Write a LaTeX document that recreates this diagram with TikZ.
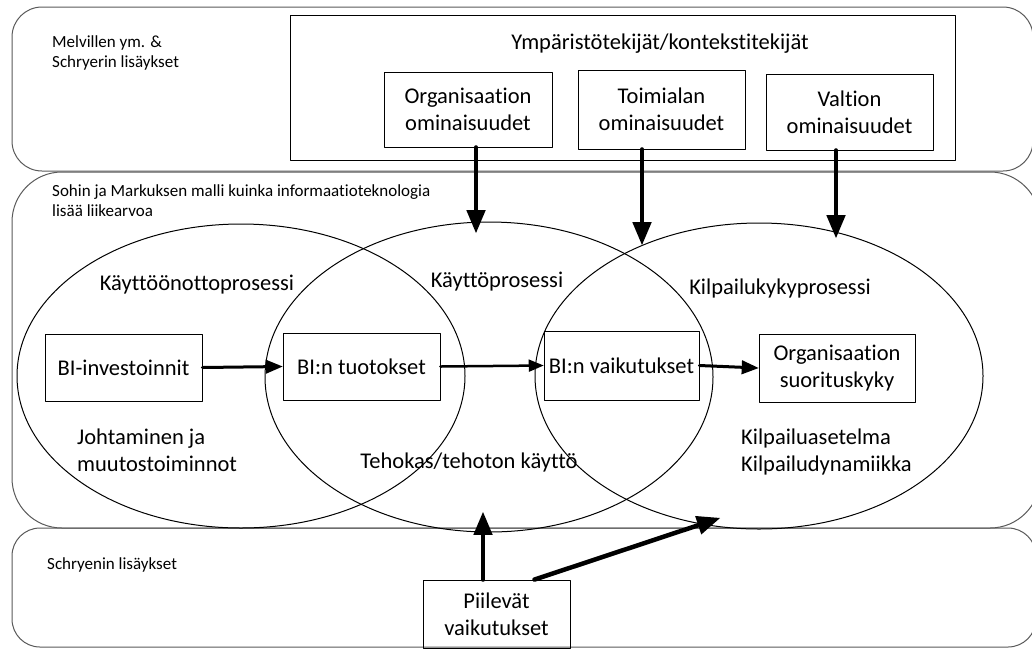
\documentclass[tikz,border=0pt]{standalone}
\usepackage{fontspec}
\setmainfont{Carlito}[Ligatures=NoCommon]
\usetikzlibrary{arrows}
\usetikzlibrary{positioning}

\definecolor{kaistaviiva}{gray}{0.35}

\begin{document}
\begin{tikzpicture}[line cap=round,line join=round,>=triangle 45,x=1pt,y=-1pt,
  laatikko/.style={draw,line width=0.9pt,align=center,inner sep=2pt,font=\fontsize{22.5}{27}\selectfont},
  teksti/.style={inner sep=0pt,align=left,font=\fontsize{22.5}{27}\selectfont},
  pieni/.style={inner sep=0pt,align=left,font=\fontsize{17}{20}\selectfont},
  kaista/.style={draw=kaistaviiva,line width=1pt},
  prosessi/.style={line width=1pt},
  nuoli/.style={->,line width=4.5pt},
  ohutnuoli/.style={->,line width=3pt}]
\clip(0,0) rectangle (1032,649);
\draw [kaista,rounded corners=30pt] (12,7) rectangle (1033,171);
\draw [kaista,rounded corners=50pt] (12,172) rectangle (1040,528);
\draw [kaista,rounded corners=28pt] (12,528) rectangle (1036,647);
\node[pieni,anchor=west] (melville) at (52,53) {Melvillen ym. \&\\Schryerin lisäykset};
\node[pieni,anchor=west] (sohmarkus) at (52,201) {Sohin ja Markuksen malli kuinka informaatioteknologia\\lisää liikearvoa};
\node[pieni,anchor=west] (schryer) at (47,565) {Schryenin lisäykset};
\node[laatikko,minimum width=665pt,minimum height=145pt] (ymparisto) at (622.5,87.5) {};
\node[teksti] (ympotsikko) at (660,44) {Ympäristötekijät/kontekstitekijät};
\node[laatikko,minimum width=168pt,minimum height=75pt] (org) at (468,109.5) {Organisaation\\ominaisuudet};
\node[laatikko,minimum width=167pt,minimum height=79pt] (toimiala) at (661.5,109.5) {Toimialan\\ominaisuudet};
\node[laatikko,minimum width=167pt,minimum height=76pt] (valtio) at (849.5,112) {Valtion\\ominaisuudet};
\draw [prosessi] (241,376) ellipse (224pt and 152pt);
\draw [prosessi] (489,377) ellipse (224pt and 155pt);
\draw [prosessi] (759,376) ellipse (224pt and 153pt);
\node[teksti] (kayttoonotto) at (197,285) {Käyttöönottoprosessi};
\node[teksti] (kaytto) at (497,282) {Käyttöprosessi};
\node[teksti] (kilpailukyky) at (780,288) {Kilpailukykyprosessi};
\node[laatikko,minimum width=157pt,minimum height=67pt] (investoinnit) at (123.5,367.5) {BI-investoinnit};
\node[laatikko,minimum width=157pt,minimum height=67pt] (tuotokset) at (361.5,366.5) {BI:n tuotokset};
\node[laatikko,minimum width=155pt,minimum height=69pt] (vaikutukset) at (621.5,365.5) {BI:n vaikutukset};
\node[laatikko,minimum width=156pt,minimum height=68pt] (suorituskyky) at (837,368) {Organisaation\\suorituskyky};
\node[teksti,anchor=west] (johtaminen) at (77,450) {Johtaminen ja\\muutostoiminnot};
\node[teksti] (tehokas) at (469,462) {Tehokas/tehoton käyttö};
\node[teksti,anchor=west] (kilpailu) at (741,452) {Kilpailuasetelma\\Kilpailudynamiikka};
\node[laatikko,minimum width=147pt,minimum height=68pt] (piilevat) at (496.5,614) {Piilevät\\vaikutukset};
\coordinate (orgkarki) at (476,233);
\coordinate (toimikarki) at (642,245);
\coordinate (valtiokarki) at (836,238);
\coordinate (piilkarki) at (483,512);
\coordinate (piilkarki2) at (720,518);
\draw [nuoli] (org.south -| orgkarki) -- (orgkarki);
\draw [nuoli] (toimiala.south -| toimikarki) -- (toimikarki);
\draw [nuoli] (valtio.south -| valtiokarki) -- (valtiokarki);
\draw [ohutnuoli] (investoinnit.east) -- (tuotokset.west);
\draw [->,line width=2.5pt] (tuotokset.east) -- (vaikutukset.west);
\draw [ohutnuoli] (vaikutukset.east) -- (suorituskyky.west);
\draw [nuoli] (piilevat.north -| piilkarki) -- (piilkarki);
\draw [nuoli] ([xshift=38pt]piilevat.north) -- (piilkarki2);
\end{tikzpicture}
\end{document}
